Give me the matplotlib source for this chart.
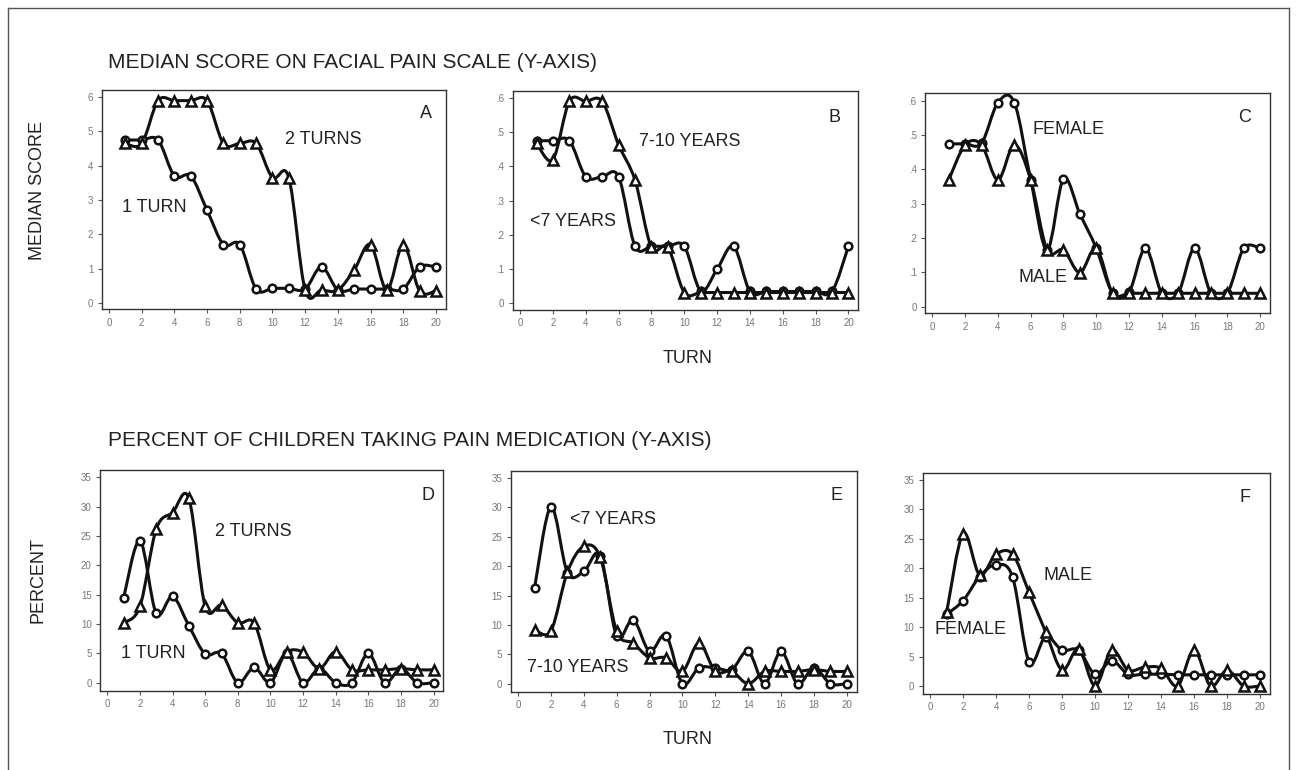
import numpy as np
import matplotlib
matplotlib.use('Agg')
import matplotlib.pyplot as plt
from matplotlib.path import Path
from matplotlib.patches import PathPatch
from matplotlib.lines import Line2D

plt.rcParams['font.family'] = ['Liberation Sans', 'DejaVu Sans']

# turn number (x axis)
turns = list(range(1, 21))

# --- top row: median score on facial pain scale ---
a_one_turn = [4.75, 4.75, 4.75, 3.7, 3.7, 2.7, 1.7, 1.7, 0.4, 0.42,
              0.42, 0.4, 1.05, 0.37, 0.4, 0.4, 0.4, 0.4, 1.05, 1.05]
a_two_turns = [4.65, 4.65, 5.9, 5.9, 5.9, 5.9, 4.65, 4.65, 4.65, 3.65,
               3.65, 0.37, 0.37, 0.37, 0.96, 1.7, 0.37, 1.7, 0.35, 0.35]

b_under7 = [.475, .475, .475, .37, .37, .37, .167, .167, .167, .167,
            .037, .1, .167, .035, .035, .035, .035, .035, .035, .167]
b_7to10 = [.468, .42, .59, .59, .59, .463, .36, .164, .164, .032,
           .032, .032, .032, .032, .032, .032, .032, .032, .032, .032]

c_female = [.474, .474, .476, .594, .594, .369, .165, .372, .27, .17,
            .039, .042, .17, .039, .04, .17, .039, .04, .17, .17]
c_male = [.369, .471, .471, .369, .471, .369, .165, .165, .099, .17,
          .039, .039, .039, .039, .039, .039, .039, .039, .039, .039]

# --- bottom row: percent of children taking pain medication ---
d_one_turn = [14.5, 24.2, 11.8, 14.7, 9.7, 4.9, 5.0, 0, 2.6, 0,
              5.0, 0, 2.4, 0, 0, 5.0, 0, 2.4, 0, 0]
d_two_turns = [10.2, 13.0, 26.2, 29.0, 31.4, 13.0, 13.2, 10.2, 10.2, 2.2,
               5.3, 5.2, 2.4, 5.3, 2.2, 2.2, 2.2, 2.4, 2.2, 2.2]

e_under7 = [16.3, 30.1, 18.9, 19.1, 21.8, 8.1, 10.9, 5.5, 8.2, 0,
            2.7, 2.7, 2.4, 5.5, 0, 5.5, 0, 2.7, 0, 0]
e_7to10 = [9.2, 9.0, 19.0, 23.4, 21.5, 8.9, 6.9, 4.4, 4.4, 2.1,
           6.9, 2.1, 2.1, 0, 2.1, 2.1, 2.1, 2.4, 2.1, 2.1]

f_female = [12.2, 14.5, 18.6, 20.6, 18.5, 4.1, 8.4, 6.1, 6.1, 2.0,
            4.3, 2.0, 2.0, 2.0, 1.9, 1.9, 1.9, 1.9, 1.9, 1.9]
f_male = [12.5, 25.9, 18.9, 22.4, 22.4, 15.9, 9.2, 2.7, 6.3, 0,
          6.1, 2.7, 3.2, 3.0, 0, 6.1, 0, 2.7, 0, 0]

x_ticks = list(range(0, 21, 2))
score_ticks_a = [0, 1, 2, 3, 4, 5, 6]
score_labels_a = ['0', '1', '2', '3', '4', '5', '6']
score_ticks_bc = [0, .1, .2, .3, .4, .5, .6]
score_labels_bc = ['0', '.1', '.2', '.3', '.4', '.5', '.6']
pct_ticks = [0, 5, 10, 15, 20, 25, 30, 35]

W, H = 1297, 770


def px(x, y):
    # pixel position -> figure fraction
    return x / W, 1 - y / H


def box(l, t, r, b):
    return [l / W, 1 - b / H, (r - l) / W, (b - t) / H]


def smooth_line(ax, x, y):
    # smoothed line through the points (cubic bezier, catmull-rom style)
    x = np.asarray(x, float)
    y = np.asarray(y, float)
    pts = np.column_stack([x, y])
    ext = np.vstack([pts[0], pts, pts[-1]])
    verts = [pts[0]]
    codes = [Path.MOVETO]
    for i in range(len(pts) - 1):
        p0, p1, p2, p3 = ext[i], ext[i + 1], ext[i + 2], ext[i + 3]
        verts += [p1 + (p2 - p0) / 6, p2 - (p3 - p1) / 6, p2]
        codes += [Path.CURVE4] * 3
    ax.add_patch(PathPatch(Path(verts, codes), fill=False, lw=2.2,
                           edgecolor='#111111', capstyle='round', zorder=2))


def panel(rect, y1, y2, yticks, ylabels, ylim, letter, letter_pos):
    ax = fig.add_axes(rect)
    smooth_line(ax, turns, y1)
    smooth_line(ax, turns, y2)
    ax.plot(turns, y1, ls='none', marker='o', ms=5.5, mfc='white',
            mec='#111111', mew=1.8, zorder=3)
    ax.plot(turns, y2, ls='none', marker='^', ms=7.5, mfc='white',
            mec='#111111', mew=1.8, zorder=3)
    ax.set_xlim(-0.45, 20.6)
    ax.set_ylim(*ylim)
    ax.set_xticks(x_ticks)
    ax.set_yticks(yticks)
    ax.set_yticklabels(ylabels)
    ax.tick_params(direction='out', length=3, width=0.8, colors='#555555',
                   labelsize=7, labelcolor='#777777', pad=3)
    for s in ax.spines.values():
        s.set_color('#333333')
        s.set_linewidth(1.0)
    fig.text(*px(*letter_pos), letter, fontsize=13, color='#222222',
             ha='center', va='center')
    return ax


fig = plt.figure(figsize=(W / 100, H / 100), dpi=100)

top_lim = (-0.19, 6.21)
bc_lim = (-0.019, 0.621)
pct_lim = (-1.36, 36.25)

panel(box(101.7, 90, 445.7, 309.3), a_one_turn, a_two_turns,
      score_ticks_a, score_labels_a, top_lim, 'A', (426, 113))
panel(box(512.7, 90.7, 858.3, 310), b_under7, b_7to10,
      score_ticks_bc, score_labels_bc, bc_lim, 'B', (835, 117))
panel(box(925, 93.3, 1270, 313.2), c_female, c_male,
      score_ticks_bc, score_labels_bc, bc_lim, 'C', (1245, 117))
panel(box(100, 470, 443.3, 690.7), d_one_turn, d_two_turns,
      pct_ticks, [str(v) for v in pct_ticks], pct_lim, 'D', (428, 495))
panel(box(510.7, 470.7, 856.7, 691.7), e_under7, e_7to10,
      pct_ticks, [str(v) for v in pct_ticks], pct_lim, 'E', (836, 495))
panel(box(922.7, 472.7, 1270, 694), f_female, f_male,
      pct_ticks, [str(v) for v in pct_ticks], pct_lim, 'F', (1245, 497))

# series labels inside the panels
lab = dict(fontsize=13, color='#222222', ha='center', va='center')
fig.text(*px(323, 140), '2 TURNS', **lab)
fig.text(*px(154, 207), '1 TURN', **lab)
fig.text(*px(690, 142), '7-10 YEARS', **lab)
fig.text(*px(573, 221), '<7 YEARS', **lab)
fig.text(*px(1068, 129), 'FEMALE', **lab)
fig.text(*px(1043, 278), 'MALE', **lab)
fig.text(*px(253, 532), '2 TURNS', **lab)
fig.text(*px(153, 653), '1 TURN', **lab)
fig.text(*px(613, 520), '<7 YEARS', **lab)
fig.text(*px(578, 668), '7-10 YEARS', **lab)
fig.text(*px(1068, 576), 'MALE', **lab)
fig.text(*px(970, 630), 'FEMALE', **lab)

# section titles and axis labels
fig.text(*px(108, 62), 'MEDIAN SCORE ON FACIAL PAIN SCALE (Y-AXIS)',
         fontsize=15, color='#222222', ha='left', va='center')
fig.text(*px(108, 440), 'PERCENT OF CHILDREN TAKING PAIN MEDICATION (Y-AXIS)',
         fontsize=15, color='#222222', ha='left', va='center')
fig.text(*px(38, 190), 'MEDIAN SCORE', fontsize=13, color='#222222',
         rotation=90, ha='center', va='center')
fig.text(*px(38, 580), 'PERCENT', fontsize=13, color='#222222',
         rotation=90, ha='center', va='center')
fig.text(*px(688, 358), 'TURN', fontsize=13, color='#222222',
         ha='center', va='center')
fig.text(*px(688, 740), 'TURN', fontsize=13, color='#222222',
         ha='center', va='center')

# outer frame of the figure
for xs, ys in [((8, 1289), (8, 8)), ((8, 8), (8, 770)), ((1289, 1289), (8, 770))]:
    fig.add_artist(Line2D([v / W for v in xs], [1 - v / H for v in ys],
                          color='#555555', lw=1.0))

fig.savefig('out.png', dpi=100)
